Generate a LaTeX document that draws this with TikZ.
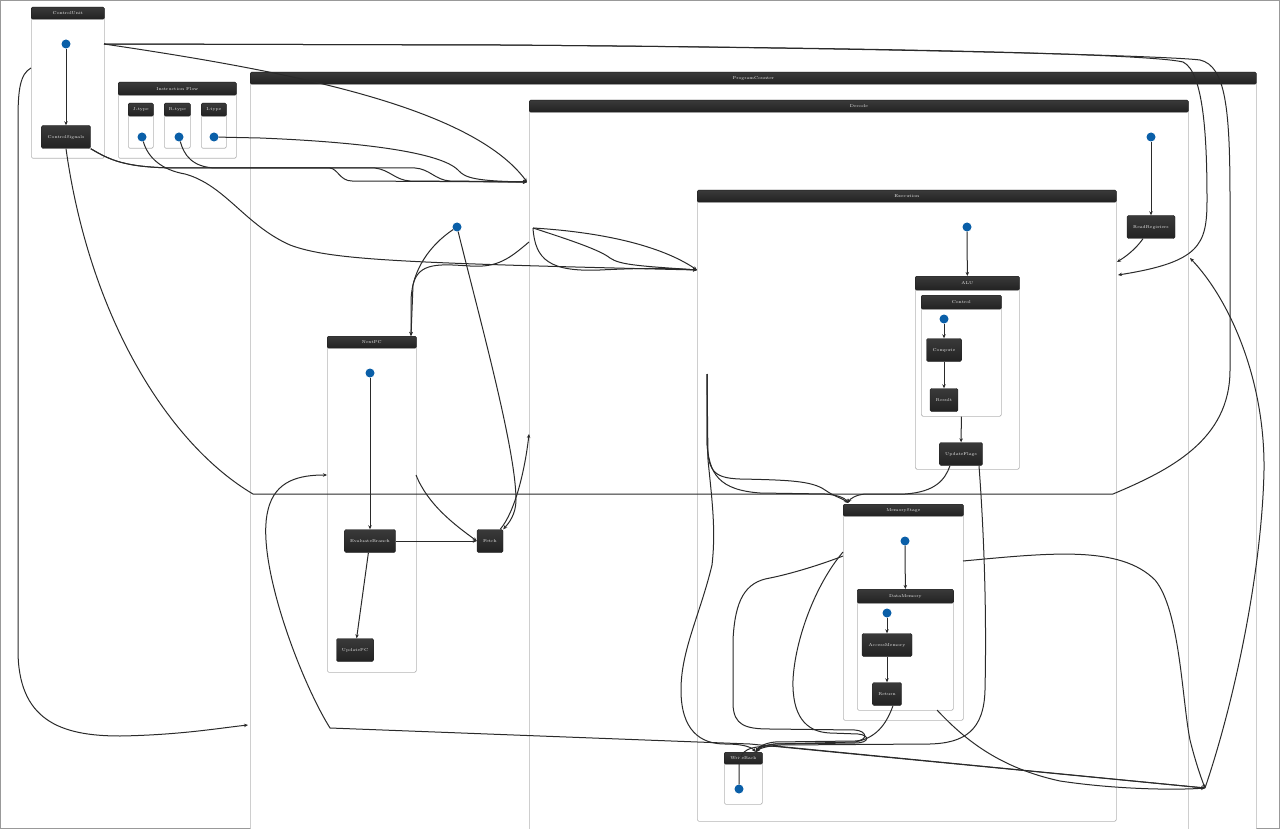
\documentclass[tikz,border=0pt]{standalone}
\usetikzlibrary{arrows.meta, positioning}
\definecolor{headtop}{HTML}{3A3A3A}
\definecolor{headbot}{HTML}{222222}
\definecolor{statefill}{HTML}{2B2B2B}
\definecolor{startblue}{HTML}{0A5FA8}
\definecolor{linegray}{HTML}{2A2A2A}
\definecolor{framegray}{HTML}{B4B4B4}

\begin{document}
\begin{tikzpicture}[x=1pt, y=-1pt,
    cluster/.style={draw=framegray, fill=white, line width=0.7pt, rounded corners=1.5pt, inner sep=0, anchor=north west},
    head/.style={top color=headtop, bottom color=headbot, draw=headbot, rounded corners=1.2pt, inner sep=0, anchor=north, minimum height=12, text=white!85!gray, font=\fontsize{4.2}{5}\selectfont},
    state/.style={top color=headtop, bottom color=headbot, draw=headbot, rounded corners=1.5pt, inner sep=0, minimum height=23, text=white!85!gray, font=\fontsize{4.2}{5}\selectfont},
    start/.style={circle, fill=startblue, inner sep=0, minimum size=9},
    flow/.style={draw=linegray, line width=1pt, -{Stealth[length=4pt,width=3.5pt]}},
    wire/.style={draw=linegray, line width=1pt}]
\useasboundingbox (0,0) rectangle (1280,829);
\draw[gray!80, line width=1pt] (0.5,0.5) rectangle (1279.5,828.5);

% Containers
\node (cu) [cluster, minimum width=73, minimum height=151] at (31,7) {};
\node (cuHead) [head, minimum width=73] at (cu.north) {ControlUnit};
\node (iflow) [cluster, minimum width=118, minimum height=76] at (118,82) {};
\node (iflowHead) [head, minimum width=118, minimum height=13] at (iflow.north) {Instruction Flow};
\node (jt) [cluster, minimum width=25, minimum height=45] at (128,103) {};
\node (jtHead) [head, minimum width=25, minimum height=13] at (jt.north) {J-type};
\node (rt) [cluster, minimum width=26, minimum height=45] at (164,103) {};
\node (rtHead) [head, minimum width=26, minimum height=13] at (rt.north) {R-type};
\node (it) [cluster, minimum width=25, minimum height=45] at (201,103) {};
\node (itHead) [head, minimum width=25, minimum height=13] at (it.north) {I-type};
\node (pc) [cluster, minimum width=1006, minimum height=780] at (250,72) {};
\node (pcHead) [head, minimum width=1006] at (pc.north) {ProgramCounter};
\node (dec) [cluster, minimum width=659, minimum height=760] at (529,100) {};
\node (decHead) [head, minimum width=659] at (dec.north) {Decode};
\node (exe) [cluster, minimum width=419, minimum height=631] at (697,190) {};
\node (exeHead) [head, minimum width=419] at (exe.north) {Execution};
\node (alu) [cluster, minimum width=104, minimum height=193] at (915,276) {};
\node (aluHead) [head, minimum width=104, minimum height=14] at (alu.north) {ALU};
\node (ctl) [cluster, minimum width=80, minimum height=121] at (921,295) {};
\node (ctlHead) [head, minimum width=80, minimum height=14] at (ctl.north) {Control};
\node (np) [cluster, minimum width=89, minimum height=336] at (327,336) {};
\node (npHead) [head, minimum width=89] at (np.north) {NextPC};
\node (mem) [cluster, minimum width=120, minimum height=216] at (843,504) {};
\node (memHead) [head, minimum width=120] at (mem.north) {MemoryStage};
\node (dm) [cluster, minimum width=96, minimum height=121] at (857,589) {};
\node (dmHead) [head, minimum width=96, minimum height=14] at (dm.north) {DataMemory};
\node (wb) [cluster, minimum width=38, minimum height=52] at (724,752) {};
\node (wbHead) [head, minimum width=38] at (wb.north) {WriteBack};

% Nodes
\node (cuStart) [start] at (66,44) {};
\node (ctrlSig) [state, minimum width=49] at (66,137) {ControlSignals};
\node (jDot) [start] at (142,137) {};
\node (rDot) [start] at (179,137) {};
\node (iDot) [start] at (214,137) {};
\node (decStart) [start] at (1151,137) {};
\node (readReg) [state, minimum width=48] at (1151,227) {ReadRegisters};
\node (exeStart) [start] at (967,227) {};
\node (ctlStart) [start] at (944,319) {};
\node (compute) [state, minimum width=35] at (944,350) {Compute};
\node (result) [state, minimum width=28] at (944,400) {Result};
\node (updFlags) [state, minimum width=43] at (961,454) {UpdateFlags};
\node (memStart) [start] at (905,541) {};
\node (dmStart) [start] at (887,613) {};
\node (accMem) [state, minimum width=50] at (887,645) {AccessMemory};
\node (ret) [state, minimum width=29] at (887,694) {Return};
\node (wbStart) [start] at (739,789) {};
\node (pcStart) [start] at (457,227) {};
\node (npStart) [start] at (370,373) {};
\node (evalBr) [state, minimum width=51] at (370,541) {EvaluateBranch};
\node (updPC) [state, minimum width=37] at (355,650) {UpdatePC};
\node (fetch) [state, minimum width=26] at (490,541) {Fetch};

% Attach points
\coordinate (cuE) at (104,44);
\coordinate (cuW) at (31,68);
\coordinate (decW) at (527,182);
\coordinate (decW2) at (529,242);
\coordinate (decW3) at (533,228);
\coordinate (decW4) at (529,434);
\coordinate (decE) at (1190,258);
\coordinate (exeW) at (697,270);
\coordinate (exeE) at (1118,275);
\coordinate (exeE2) at (1117,262);
\coordinate (exeOut) at (707,374);
\coordinate (pcW) at (248,725);
\coordinate (npN) at (411,336);
\coordinate (npW) at (327,475);
\coordinate (npE) at (416,475);
\coordinate (memN) at (848,503);
\coordinate (memW) at (843,556);
\coordinate (memE) at (963,561);
\coordinate (dmS) at (937,710);
\coordinate (wbN) at (756,752);
\coordinate (hub) at (1205,788);

% Arrows
\draw[flow] (cuStart) -- (ctrlSig);
\draw[flow] (cuE) -- (500,45) .. controls (900,48) and (1150,54) .. (1183,62) .. controls (1204,72) and (1207,140) .. (1207,200) .. controls (1207,245) and (1200,262) .. (exeE);
\draw[wire] (cuE) -- (500,45) .. controls (900,48) and (1170,56) .. (1200,60) .. controls (1226,66) and (1230,110) .. (1230,200) -- (1230,370) .. controls (1230,440) and (1170,470) .. (1113,494) -- (253,494) .. controls (170,445) and (90,320) .. (ctrlSig.south);
\draw[flow] (cuE) .. controls (280,70) and (470,105) .. (decW);
\draw[flow] (cuW) .. controls (20,74) and (18,90) .. (18,120) -- (18,650) .. controls (18,720) and (60,736) .. (120,736) .. controls (180,735) and (220,728) .. (pcW);
\draw[flow] (ctrlSig.south east) .. controls (110,160) and (125,168) .. (180,168) -- (330,168) .. controls (338,169) and (340,181) .. (352,181) -- (decW);
\draw[flow] (ctrlSig.south east) .. controls (110,160) and (125,168) .. (180,168) -- (415,168) .. controls (430,169) and (435,180) .. (450,181) -- (decW);
\draw[flow] (rDot) .. controls (184,155) and (192,167) .. (215,168) -- (375,168) .. controls (390,170) and (395,180) .. (410,181) -- (decW);
\draw[flow] (iDot) -- (260,138) .. controls (360,142) and (440,152) .. (458,170) .. controls (465,178) and (475,181) .. (decW);
\draw[flow] (jDot) .. controls (148,158) and (162,170) .. (185,174) .. controls (225,185) and (245,225) .. (290,245) .. controls (330,260) and (400,263) .. (exeW);

\draw[flow] (pcStart) .. controls (430,245) and (412,270) .. (411,300) -- (npN);
\draw[flow] (decW2) .. controls (510,258) and (498,268) .. (470,266) .. controls (440,264) and (418,262) .. (413,285) -- (npN);
\draw[flow] (pcStart) .. controls (480,320) and (516,450) .. (516,500) .. controls (516,515) and (508,524) .. (fetch.north east);
\draw[flow] ([xshift=-3]fetch.north east) .. controls (515,512) and (525,470) .. (decW4);
\draw[flow] (npE) .. controls (428,505) and (455,525) .. (fetch.west);
\draw[flow] (npStart) -- (evalBr);
\draw[flow] (evalBr) -- (fetch);
\draw[flow] (evalBr) -- (updPC);

\draw[flow] (decW3) .. controls (600,232) and (660,245) .. (exeW);
\draw[flow] (decW3) .. controls (570,240) and (600,250) .. (610,258) .. controls (620,265) and (640,266) .. (exeW);
\draw[flow] (decW3) .. controls (535,260) and (550,272) .. (600,270) .. controls (640,268) and (670,268) .. (exeW);
\draw[flow] (decStart) -- (readReg);
\draw[flow] ([xshift=-8]readReg.south) .. controls (1135,250) and (1125,257) .. (exeE2);

\draw[flow] (exeStart) -- (alu.north);
\draw[flow] (ctlStart) -- (compute);
\draw[flow] (compute) -- (result);
\draw[flow] (ctl.south) -- (updFlags);

\draw[flow] (exeOut) -- (707,440) .. controls (708,470) and (712,478) .. (740,479) .. controls (790,480) and (812,481) .. (825,490) .. controls (835,497) and (842,498) .. (memN);
\draw[flow] (exeOut) -- (707,440) .. controls (708,475) and (720,490) .. (760,493) -- (825,494) .. controls (838,495) and (845,498) .. (memN);
\draw[flow] (exeOut) -- (708,460) .. controls (712,500) and (716,530) .. (712,565) .. controls (700,615) and (681,650) .. (681,690) .. controls (681,730) and (700,744) .. (725,744) .. controls (740,744) and (750,746) .. (wbN);
\draw[flow] ([xshift=-11]updFlags.south) .. controls (945,480) and (935,492) .. (905,494) -- (865,494) .. controls (855,495) and (850,499) .. (memN);

\draw[flow] (memStart) -- (dm.north);
\draw[flow] (dmStart) -- (accMem);
\draw[flow] (accMem) -- (ret);

\draw[flow] (memW) .. controls (820,565) and (790,574) .. (770,578) .. controls (745,582) and (735,600) .. (733,640) -- (733,705) .. controls (734,725) and (745,729) .. (770,729) -- (855,730) .. controls (868,731) and (868,741) .. (855,741) -- (775,742) .. controls (765,743) and (758,747) .. (wbN);
\draw[flow] ([yshift=4]memW) .. controls (815,585) and (795,640) .. (793,680) .. controls (792,715) and (805,732) .. (830,733) -- (858,734) .. controls (870,735) and (870,743) .. (855,743) -- (775,744) .. controls (765,745) and (758,748) .. (wbN);
\draw[flow] ([xshift=6]ret.south) .. controls (886,725) and (876,738) .. (855,742) -- (775,744) .. controls (765,745) and (758,748) .. (wbN);
\draw[flow] ([xshift=18]updFlags.south) .. controls (983,520) and (987,600) .. (985,690) .. controls (984,730) and (965,743) .. (930,744) -- (780,745) .. controls (768,746) and (760,748) .. (wbN);

\draw[flow] (dmS) .. controls (965,740) and (1000,768) .. (1060,781) .. controls (1120,790) and (1180,790) .. (hub);
\draw[flow] (memE) .. controls (1050,553) and (1120,545) .. (1155,580) .. controls (1180,610) and (1182,700) .. (1190,740) .. controls (1195,760) and (1200,775) .. (hub);
\draw[flow] (wbStart) -- (739,765) .. controls (740,750) and (748,746) .. (775,746) -- (hub);
\draw[flow] (hub) .. controls (1235,700) and (1262,570) .. (1264,470) .. controls (1265,380) and (1230,300) .. (decE);
\draw[flow] (hub) -- (750,744) -- (330,728) .. controls (300,680) and (255,560) .. (268,510) .. controls (275,480) and (300,475) .. (npW);
\end{tikzpicture}
\end{document}
